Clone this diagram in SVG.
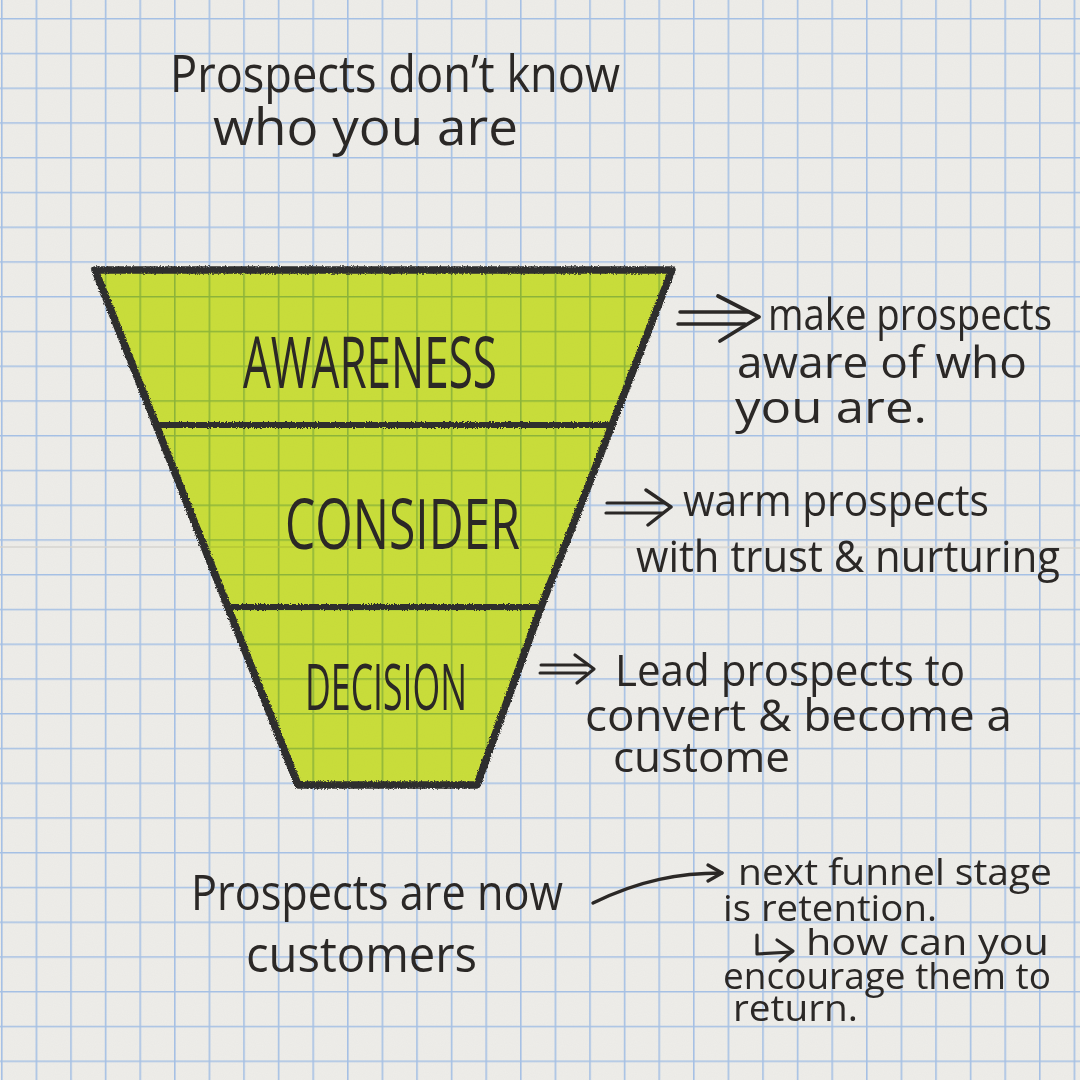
<svg xmlns="http://www.w3.org/2000/svg" width="1080" height="1080" viewBox="0 0 1080 1080">
  <defs>
    <pattern id="grid" x="1" y="18" width="34.6" height="34.75" patternUnits="userSpaceOnUse">
      <path d="M0.5,0 V34.75 M0,0.5 H34.6" fill="none" stroke="#9dbce6" stroke-width="2.2" opacity="0.9"/>
    </pattern>
    <filter id="paperNoise" x="0" y="0" width="100%" height="100%">
      <feTurbulence type="fractalNoise" baseFrequency="0.9" numOctaves="2" seed="3" result="n"/>
      <feColorMatrix type="matrix" values="0 0 0 0 0.5  0 0 0 0 0.5  0 0 0 0 0.5  0 0 0 0.08 0"/>
    </filter>
    <filter id="charcoal" x="-5%" y="-5%" width="110%" height="110%">
      <feTurbulence type="fractalNoise" baseFrequency="0.7" numOctaves="2" seed="7" result="t"/>
      <feDisplacementMap in="SourceGraphic" in2="t" scale="3.5" xChannelSelector="R" yChannelSelector="G"/>
    </filter>
    <filter id="wash" x="-2%" y="-2%" width="104%" height="104%">
      <feTurbulence type="fractalNoise" baseFrequency="0.02" numOctaves="2" seed="11" result="w"/>
      <feDisplacementMap in="SourceGraphic" in2="w" scale="4" xChannelSelector="R" yChannelSelector="G"/>
    </filter>
    <marker id="chev" viewBox="0 0 20 20" refX="17" refY="10" markerWidth="20" markerHeight="20" markerUnits="userSpaceOnUse" orient="auto">
      <path d="M3,2 L17,10 L3,18" fill="none" stroke="#2b2826" stroke-width="3.2" stroke-linecap="round" stroke-linejoin="round"/>
    </marker>
    <style>
      .hw { font-family: "Open Sans", "DejaVu Sans", sans-serif; fill: #2b2826; font-weight: 500; }
      .lbl { font-family: "Open Sans", "DejaVu Sans", sans-serif; fill: #2b2826; font-weight: 400; }
      .band { fill: #d8ef40; mix-blend-mode: multiply; }
      .ink { fill: none; stroke: #2b2826; stroke-linecap: round; stroke-linejoin: round; }
      .outline { fill: none; stroke: #2f2e2d; stroke-linecap: round; stroke-linejoin: round; }
    </style>
  </defs>

  <!-- paper -->
  <rect width="1080" height="1080" fill="#eeede9"/>
  <rect width="1080" height="1080" fill="url(#grid)"/>
  <rect width="1080" height="1080" filter="url(#paperNoise)"/>
  <path d="M0,547 C300,549 700,546 1080,548" fill="none" stroke="#d4d3cf" stroke-width="2" opacity="0.7"/>

  <!-- top caption -->
  <g id="caption-top">
    <text class="hw" x="170" y="92" font-size="52" textLength="450" lengthAdjust="spacingAndGlyphs">Prospects don’t know</text>
    <text class="hw" x="213" y="145" font-size="52" textLength="305" lengthAdjust="spacingAndGlyphs">who you are</text>
  </g>

  <!-- funnel stages -->
  <g id="stage-awareness">
    <polygon class="band" filter="url(#wash)" points="95,270 672,270 612,425 156,425"/>
    <text class="lbl" x="243" y="388" font-size="72" textLength="254" lengthAdjust="spacingAndGlyphs">AWARENESS</text>
  </g>
  <g id="stage-consider">
    <polygon class="band" filter="url(#wash)" points="156,425 612,425 541,607 228,607"/>
    <text class="lbl" x="285" y="549" font-size="70" textLength="235" lengthAdjust="spacingAndGlyphs">CONSIDER</text>
  </g>
  <g id="stage-decision">
    <polygon class="band" filter="url(#wash)" points="228,607 541,607 477,785 298,785"/>
    <text class="lbl" x="305" y="710" font-size="64" textLength="162" lengthAdjust="spacingAndGlyphs">DECISION</text>
  </g>
  <g id="funnel-outline" filter="url(#charcoal)">
    <path class="outline" stroke-width="7.5" d="M95,270 L672,270 L612,425 L541,607 L477,785 L298,785 Z"/>
    <path class="outline" stroke-width="6" d="M160,425 L607,425 M232,607 L537,607"/>
  </g>

  <!-- annotations -->
  <g id="note-awareness">
    <text class="hw" x="768" y="330" font-size="44" textLength="284" lengthAdjust="spacingAndGlyphs">make prospects</text>
    <text class="hw" x="737" y="378" font-size="44" textLength="290" lengthAdjust="spacingAndGlyphs">aware of who</text>
    <text class="hw" x="735" y="423" font-size="44" textLength="192" lengthAdjust="spacingAndGlyphs">you are.</text>
  </g>
  <g id="note-consider">
    <text class="hw" x="683" y="516" font-size="44" textLength="306" lengthAdjust="spacingAndGlyphs">warm prospects</text>
    <text class="hw" x="636" y="572" font-size="44" textLength="424" lengthAdjust="spacingAndGlyphs">with trust &amp; nurturing</text>
  </g>
  <g id="note-decision">
    <text class="hw" x="615" y="686" font-size="44" textLength="350" lengthAdjust="spacingAndGlyphs">Lead prospects to</text>
    <text class="hw" x="585" y="731" font-size="44" textLength="427" lengthAdjust="spacingAndGlyphs">convert &amp; become a</text>
    <text class="hw" x="613" y="772" font-size="42" textLength="177" lengthAdjust="spacingAndGlyphs">custome</text>
  </g>
  <g id="caption-bottom">
    <text class="hw" x="191" y="910" font-size="50" textLength="372" lengthAdjust="spacingAndGlyphs">Prospects are now</text>
    <text class="hw" x="246" y="972" font-size="50" textLength="231" lengthAdjust="spacingAndGlyphs">customers</text>
  </g>
  <g id="note-retention">
    <text class="hw" x="738" y="885" font-size="37" textLength="314" lengthAdjust="spacingAndGlyphs">next funnel stage</text>
    <text class="hw" x="723" y="921" font-size="37" textLength="214" lengthAdjust="spacingAndGlyphs">is retention.</text>
    <text class="hw" x="806" y="955" font-size="37" textLength="243" lengthAdjust="spacingAndGlyphs">how can you</text>
    <text class="hw" x="723" y="989" font-size="37" textLength="328" lengthAdjust="spacingAndGlyphs">encourage them to</text>
    <text class="hw" x="733" y="1021" font-size="37" textLength="125" lengthAdjust="spacingAndGlyphs">return.</text>
  </g>

  <!-- connectors -->
  <g id="connectors">
    <!-- awareness double arrow -->
    <path class="ink" stroke-width="3.5" d="M680,312 L748,312 M678,324 L745,324"/>
    <path class="ink" stroke-width="3.8" d="M718,296 L759,317 L720,341"/>
    <!-- consider double arrow -->
    <path class="ink" stroke-width="3.2" d="M607,503 L664,503 M606,513 L662,513"/>
    <path class="ink" stroke-width="3.4" d="M646,490 L671,507 L648,525"/>
    <!-- decision double arrow -->
    <path class="ink" stroke-width="3" d="M541,665 L588,665 M540,673 L586,673"/>
    <path class="ink" stroke-width="3.2" d="M575,655 L594,669 L577,683"/>
    <!-- curved arrow to next stage -->
    <path class="ink" stroke-width="3.4" d="M593,903 C640,880 680,873 722,873" marker-end="url(#chev)"/>
    <!-- hook arrow -->
    <path class="ink" stroke-width="3.2" d="M757,935 L757,954 L792,952"/>
    <path class="ink" stroke-width="3.2" d="M777,940 L793,951 L780,961"/>
  </g>
</svg>
